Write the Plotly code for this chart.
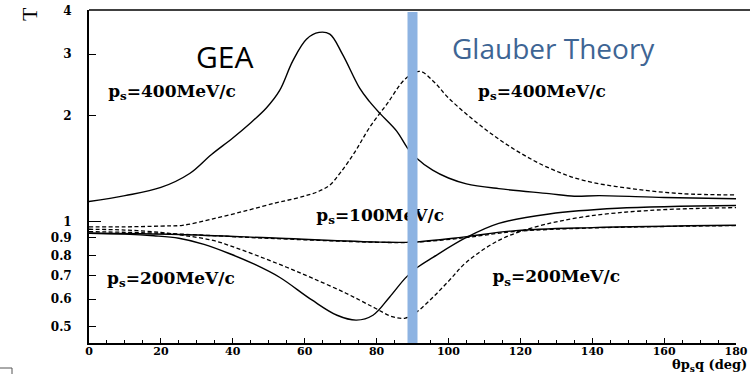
import numpy as np
import plotly.graph_objects as go

# ---------------- data ----------------
gea400_deg = [0, 10, 20, 28, 34, 40, 44.7, 49.4, 53, 56.7, 60.5, 64, 67, 70.5, 75.3, 78, 81, 85.6, 88.6, 91, 95.6, 100, 105, 114, 128, 135, 142, 160, 180]
gea400_T   = [1.14, 1.185, 1.25, 1.37, 1.55, 1.73, 1.90, 2.11, 2.36, 2.87, 3.31, 3.46, 3.42, 3.0, 2.40, 2.20, 2.03, 1.81, 1.62, 1.52, 1.40, 1.33, 1.28, 1.24, 1.20, 1.18, 1.185, 1.17, 1.16]

gl400_deg = [0, 10, 20, 26, 35, 44, 52, 57, 61, 64, 67, 70, 74, 78, 83, 88, 92, 96, 100, 110, 119, 128, 137.5, 151, 165, 180]
gl400_T   = [0.965, 0.965, 0.97, 0.975, 1.02, 1.075, 1.13, 1.16, 1.19, 1.22, 1.27, 1.38, 1.58, 1.85, 2.17, 2.55, 2.68, 2.50, 2.25, 1.84, 1.59, 1.42, 1.31, 1.24, 1.20, 1.19]

gea200_deg = [0, 10, 18, 25, 32, 39, 46, 53, 62, 69, 74.4, 79, 83.6, 88, 91, 95.7, 105, 114, 128, 147, 180]
gea200_T   = [0.925, 0.92, 0.91, 0.895, 0.86, 0.81, 0.755, 0.693, 0.597, 0.54, 0.523, 0.54, 0.608, 0.689, 0.735, 0.79, 0.90, 0.987, 1.05, 1.09, 1.11]

gl200_deg = [0, 10, 20, 27, 34.5, 41, 48, 55, 62, 71.5, 79, 84.6, 88, 91, 95.7, 100.3, 105, 114, 123.5, 137.5, 156, 180]
gl200_T   = [0.95, 0.945, 0.93, 0.91, 0.883, 0.84, 0.79, 0.74, 0.69, 0.624, 0.57, 0.534, 0.53, 0.55, 0.608, 0.68, 0.765, 0.883, 0.96, 1.03, 1.075, 1.095]

gea100_deg = [0, 25, 53, 81, 90, 104, 118, 140, 180]
gea100_T   = [0.925, 0.918, 0.895, 0.873, 0.873, 0.902, 0.94, 0.96, 0.975]

gl100_deg = [0, 20, 50, 80, 90, 104, 118, 140, 180]
gl100_T   = [0.935, 0.925, 0.895, 0.872, 0.872, 0.897, 0.935, 0.958, 0.973]

x_ticks = [0, 20, 40, 60, 80, 100, 120, 140, 160, 180]
y_ticks = [0.5, 0.6, 0.7, 0.8, 0.9, 1, 2, 3, 4]
y_ticktext = ["0.5", "0.6", "0.7", "0.8", "0.9", "1", "2", "3", "4"]

divider_deg = 90

# ---------------- figure ----------------
W, H = 750, 374
ML, MR, MT, MB = 89, 14, 10, 31
PW, PH = W - ML - MR, H - MT - MB

def px2paper_x(px):
    return (px - ML) / PW

def px2paper_y(py):
    return (H - MB - py) / PH

serif_bold = dict(family="DejaVu Serif", color="black", weight="bold")

fig = go.Figure()

def add_curve(xs, ys, dashed):
    fig.add_trace(go.Scatter(
        x=xs, y=ys, mode="lines", showlegend=False, hoverinfo="skip",
        line=dict(color="black", width=1.4 if not dashed else 1.3,
                  dash="4px,2.5px" if dashed else "solid",
                  shape="spline", smoothing=1.0)))

add_curve(gea400_deg, gea400_T, False)
add_curve(gl400_deg, gl400_T, True)
add_curve(gea200_deg, gea200_T, False)
add_curve(gl200_deg, gl200_T, True)
add_curve(gea100_deg, gea100_T, False)
add_curve(gl100_deg, gl100_T, True)

# momentum labels (as text traces so the divider bar can cover them)
labels = [
    (23.1, 2.33, "p<sub>s</sub>=400MeV/c"),
    (126.0, 2.33, "p<sub>s</sub>=400MeV/c"),
    (81.0, 1.033, "p<sub>s</sub>=100MeV/c"),
    (22.8, 0.684, "p<sub>s</sub>=200MeV/c"),
    (130.0, 0.689, "p<sub>s</sub>=200MeV/c"),
]
fig.add_trace(go.Scatter(
    x=[l[0] for l in labels], y=[l[1] for l in labels], text=[l[2] for l in labels],
    mode="text", textposition="middle center", showlegend=False, hoverinfo="skip",
    textfont=dict(size=17, **serif_bold)))

# dummy trace for secondary axis carrying the long tick at 1
fig.add_trace(go.Scatter(x=[None], y=[None], yaxis="y2", showlegend=False, hoverinfo="skip"))

yrange = [np.log10(0.45), np.log10(4.0) + 0.001]

fig.update_layout(
    width=W, height=H,
    margin=dict(l=ML, r=MR, t=MT, b=MB, pad=0, autoexpand=False),
    paper_bgcolor="white", plot_bgcolor="white",
    xaxis=dict(range=[0, 180], tickvals=x_ticks, ticks="inside", ticklen=5, tickwidth=1,
               tickcolor="black", showline=True, linecolor="black", linewidth=1.5,
               showgrid=False, zeroline=False, automargin=False, ticklabelstandoff=-3,
               tickfont=dict(size=11, **serif_bold),
               minor=dict(dtick=5, ticks="inside", ticklen=3, tickcolor="black", tickwidth=1, showgrid=False)),
    yaxis=dict(type="log", range=yrange, tickvals=y_ticks, ticktext=y_ticktext,
               ticks="inside", ticklen=7, tickwidth=1, tickcolor="black",
               showline=True, linecolor="black", linewidth=1.8,
               showgrid=False, zeroline=False, ticklabelstandoff=13, automargin=False,
               tickfont=dict(size=12, **serif_bold)),
    yaxis2=dict(type="log", range=yrange, overlaying="y", side="left", anchor="x",
                tickvals=[1], ticks="inside", ticklen=12, tickwidth=1, tickcolor="black",
                showticklabels=False, showline=False, showgrid=False, zeroline=False,
                automargin=False),
    shapes=[
        # top frame line
        dict(type="line", xref="paper", yref="paper", x0=0, x1=px2paper_x(W), y0=1, y1=1,
             line=dict(color="black", width=1.5), layer="above"),
        # divider bar
        dict(type="line", xref="x", yref="paper", x0=divider_deg, x1=divider_deg, y0=0, y1=0.994,
             line=dict(color="#8DB3E2", width=10), layer="above"),
        # small corner mark at bottom-left
        dict(type="line", xref="paper", yref="paper", x0=px2paper_x(0), x1=px2paper_x(12),
             y0=px2paper_y(368), y1=px2paper_y(368), line=dict(color="#555555", width=1)),
        dict(type="line", xref="paper", yref="paper", x0=px2paper_x(12), x1=px2paper_x(12),
             y0=px2paper_y(368), y1=px2paper_y(374), line=dict(color="#555555", width=1)),
    ],
    annotations=[
        dict(text="GEA", xref="paper", yref="paper", x=px2paper_x(224), y=px2paper_y(56),
             showarrow=False, xanchor="center", yanchor="middle",
             font=dict(family="Open Sans", size=30, color="black")),
        dict(text="Glauber Theory", xref="paper", yref="paper", x=px2paper_x(553), y=px2paper_y(48),
             showarrow=False, xanchor="center", yanchor="middle",
             font=dict(family="Open Sans", size=28, color="#3E6594")),
        dict(text="θp<sub>s</sub>q (deg)", xref="paper", yref="paper", x=px2paper_x(749), y=px2paper_y(365.5),
             showarrow=False, xanchor="right", yanchor="middle",
             font=dict(size=13, **serif_bold)),
        dict(text="T", xref="paper", yref="paper", x=px2paper_x(22), y=px2paper_y(14),
             showarrow=False, xanchor="center", yanchor="middle", textangle=-90,
             xshift=8, font=dict(family="Liberation Serif", size=22, color="black")),
    ],
)

fig.write_html("out.html")
